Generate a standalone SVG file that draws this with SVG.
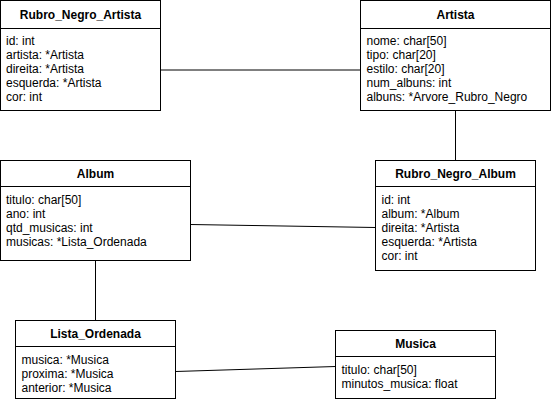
<svg xmlns="http://www.w3.org/2000/svg" width="551" height="404" viewBox="0 0 551 404">
<style>
rect{fill:#fff;stroke:#000;stroke-width:1}
line.s{stroke:#000;stroke-width:1}
.c line{stroke:#000;stroke-width:1}
text{font-family:"Liberation Sans",Arial,Helvetica,sans-serif;font-size:12px;fill:#000}
.t{font-weight:bold;text-anchor:middle}
</style>
<rect x="0" y="0" width="551" height="404" style="stroke:none"/>
<g class="c" id="connectors">
<line x1="160.5" y1="70" x2="360.5" y2="70"/>
<line x1="455.5" y1="110.5" x2="455.5" y2="160.5"/>
<line x1="190.5" y1="224.5" x2="375.5" y2="227.5"/>
<line x1="95.5" y1="260.5" x2="95.5" y2="320.5"/>
<line x1="175.5" y1="371.5" x2="335.5" y2="366.5"/>
</g>
<g id="rubro_negro_artista">
<rect x="0.5" y="0.5" width="160" height="110"/>
<line class="s" x1="0.5" y1="28.5" x2="160.5" y2="28.5"/>
<text class="t" x="80.5" y="19">Rubro_Negro_Artista</text>
<text x="6" y="45">id: int</text>
<text x="6" y="59">artista: *Artista</text>
<text x="6" y="73">direita: *Artista</text>
<text x="6" y="87">esquerda: *Artista</text>
<text x="6" y="101">cor: int</text>
</g>
<g id="artista">
<rect x="360.5" y="0.5" width="190" height="110"/>
<line class="s" x1="360.5" y1="28.5" x2="550.5" y2="28.5"/>
<text class="t" x="455.5" y="19">Artista</text>
<text x="366.5" y="45">nome: char[50]</text>
<text x="366.5" y="59">tipo: char[20]</text>
<text x="366.5" y="73">estilo: char[20]</text>
<text x="366.5" y="87">num_albuns: int</text>
<text x="366.5" y="101">albuns: *Arvore_Rubro_Negro</text>
</g>
<g id="album">
<rect x="0.5" y="160.5" width="190" height="100"/>
<line class="s" x1="0.5" y1="186.5" x2="190.5" y2="186.5"/>
<text class="t" x="95.5" y="178">Album</text>
<text x="6" y="204">titulo: char[50]</text>
<text x="6" y="218">ano: int</text>
<text x="6" y="232">qtd_musicas: int</text>
<text x="6" y="246">musicas: *Lista_Ordenada</text>
</g>
<g id="rubro_negro_album">
<rect x="375.5" y="160.5" width="160" height="110"/>
<line class="s" x1="375.5" y1="186.5" x2="535.5" y2="186.5"/>
<text class="t" x="455.5" y="178">Rubro_Negro_Album</text>
<text x="381.5" y="204">id: int</text>
<text x="381.5" y="218">album: *Album</text>
<text x="381.5" y="232">direita: *Artista</text>
<text x="381.5" y="246">esquerda: *Artista</text>
<text x="381.5" y="260">cor: int</text>
</g>
<g id="lista_ordenada">
<rect x="15.5" y="320.5" width="160" height="78"/>
<line class="s" x1="15.5" y1="346.5" x2="175.5" y2="346.5"/>
<text class="t" x="95.5" y="338">Lista_Ordenada</text>
<text x="21.5" y="364">musica: *Musica</text>
<text x="21.5" y="378">proxima: *Musica</text>
<text x="21.5" y="392">anterior: *Musica</text>
</g>
<g id="musica">
<rect x="335.5" y="330.5" width="160" height="68"/>
<line class="s" x1="335.5" y1="356.5" x2="495.5" y2="356.5"/>
<text class="t" x="415.5" y="348">Musica</text>
<text x="341.5" y="374">titulo: char[50]</text>
<text x="341.5" y="388">minutos_musica: float</text>
</g>
</svg>
